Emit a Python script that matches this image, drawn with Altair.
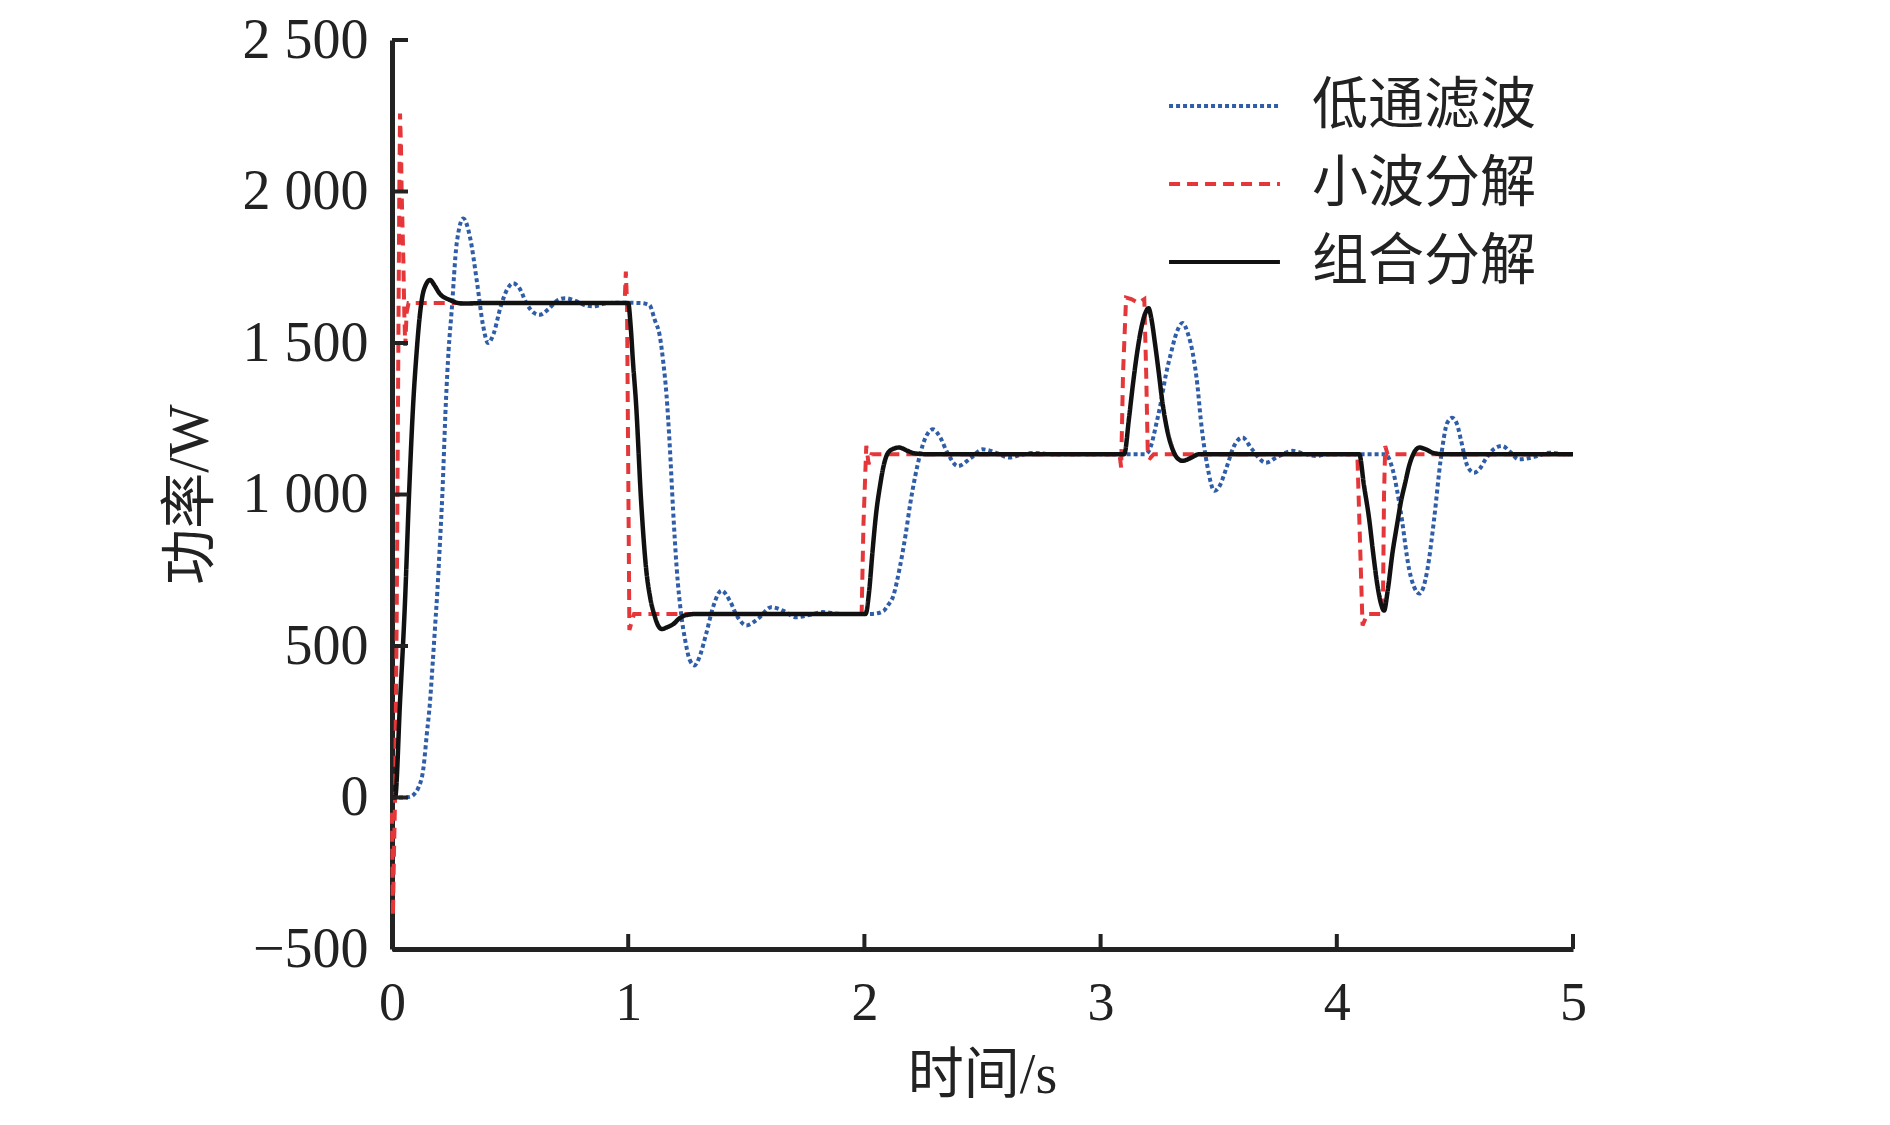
import altair as alt
import pandas as pd

# ---------------- data ----------------
series_names = ["低通滤波", "小波分解", "组合分解"]

lp_t = [0, 0.05, 0.076, 0.095, 0.111, 0.133, 0.147, 0.161, 0.172, 0.182, 0.192, 0.203, 0.213, 0.228, 0.24, 0.252,
        0.274, 0.302, 0.33, 0.36, 0.385, 0.407, 0.43, 0.46, 0.49, 0.513, 0.54, 0.57, 0.6, 0.626, 0.66, 0.7,
        0.732, 0.78, 0.82, 0.852, 0.9, 0.95, 1.05, 1.09, 1.112, 1.134, 1.148, 1.162, 1.176, 1.19, 1.205,
        1.225, 1.241, 1.26, 1.281, 1.3, 1.33, 1.36, 1.395, 1.43, 1.46, 1.5, 1.55, 1.605, 1.66, 1.71, 1.77,
        1.823, 1.9, 2.034, 2.08, 2.1, 2.12, 2.15, 2.175, 2.195, 2.215, 2.234, 2.26, 2.29, 2.32, 2.35, 2.396,
        2.45, 2.5, 2.55, 2.614, 2.66, 2.71, 2.8, 3.19, 3.213, 3.235, 3.255, 3.275, 3.298, 3.32, 3.347, 3.37,
        3.39, 3.41, 3.424, 3.452, 3.482, 3.505, 3.531, 3.565, 3.601, 3.64, 3.699, 3.75, 3.812, 3.86, 3.911,
        3.96, 4.206, 4.236, 4.271, 4.306, 4.33, 4.349, 4.365, 4.384, 4.412, 4.44, 4.468, 4.489, 4.51, 4.525,
        4.553, 4.581, 4.605, 4.63, 4.665, 4.7, 4.735, 4.77, 4.84, 4.9, 4.97, 5.0]
lp_v = [0, 0, 2, 12, 31, 97, 206, 316, 440, 560, 680, 840, 997, 1303, 1480, 1600,
        1829, 1911, 1850, 1700, 1560, 1500, 1530, 1620, 1680, 1697, 1680, 1630, 1600, 1593, 1610, 1640,
        1648, 1638, 1624, 1621, 1630, 1633, 1632, 1625, 1577, 1522, 1440, 1330, 1160, 950, 760,
        600, 520, 455, 436, 460, 540, 630, 683, 650, 600, 568, 590, 628, 615, 595, 603,
        612, 606, 606, 615, 635, 660, 760, 870, 974, 1060, 1127, 1190, 1215, 1190, 1140, 1094,
        1120, 1149, 1140, 1122, 1130, 1137, 1133, 1133, 1160, 1230, 1303, 1390, 1467, 1530, 1566, 1530,
        1467, 1360, 1248, 1094, 1012, 1030, 1084, 1160, 1188, 1150, 1105, 1125, 1144, 1135, 1127,
        1133, 1133, 1084, 941, 754, 690, 673, 690, 754, 919, 1116, 1237, 1253, 1230, 1182,
        1094, 1072, 1085, 1116, 1150, 1160, 1140, 1116, 1125, 1138, 1133, 1133]

wv_t = [0, 0.004, 0.008, 0.013, 0.02, 0.027, 0.031, 0.034, 0.038, 0.041, 0.045, 0.048, 0.052, 0.056, 0.062,
        0.07, 0.985, 0.99, 0.995, 1.0, 1.005, 1.015, 1.025, 1.98, 1.988, 1.996, 2.008, 2.018, 2.03, 3.08,
        3.087, 3.095, 3.108, 3.13, 3.16, 3.185, 3.193, 3.2, 3.21, 3.225, 4.087, 4.098, 4.109, 4.13, 4.195,
        4.2, 4.205, 4.215, 5.0]
wv_v = [-50, -390, -200, 0, 600, 1500, 2000, 2257, 2150, 1993, 1870, 1774, 1600, 1490, 1600,
        1632, 1632, 1736, 1632, 1100, 553, 580, 606, 606, 596, 900, 1161, 1100, 1133, 1133,
        1089, 1400, 1650, 1645, 1632, 1645, 1400, 1125, 1120, 1133, 1133, 850, 568, 606, 606,
        1000, 1160, 1133, 1133]

cb_t = [0, 0.013, 0.034, 0.055, 0.072, 0.09, 0.104, 0.115, 0.126, 0.145, 0.161, 0.18, 0.2, 0.245, 0.302,
        0.4, 1.0, 1.01, 1.02, 1.033, 1.055, 1.076, 1.093, 1.111, 1.125, 1.142, 1.165, 1.192, 1.215, 1.241,
        1.29, 2.005, 2.02, 2.034, 2.05, 2.066, 2.08, 2.098, 2.12, 2.147, 2.18, 2.212, 2.26, 3.1, 3.12,
        3.136, 3.155, 3.171, 3.19, 3.203, 3.215, 3.23, 3.245, 3.262, 3.28, 3.305, 3.325, 3.347, 3.38, 3.418,
        4.095, 4.115, 4.137, 4.155, 4.172, 4.187, 4.2, 4.215, 4.236, 4.255, 4.271, 4.29, 4.306, 4.325, 4.349,
        4.38, 4.405, 4.45, 5.0]
cb_v = [0, 0, 316, 645, 997, 1303, 1467, 1570, 1642, 1695, 1708, 1690, 1665, 1642, 1630,
        1632, 1632, 1560, 1440, 1303, 974, 754, 660, 602, 570, 556, 562, 573, 590, 601,
        606, 606, 680, 809, 940, 1028, 1090, 1135, 1150, 1155, 1145, 1136, 1133, 1133, 1250,
        1358, 1470, 1544, 1600, 1615, 1580, 1500, 1410, 1303, 1220, 1149, 1120, 1111, 1120, 1133,
        1133, 1030, 919, 800, 700, 640, 617, 680, 809, 900, 974, 1040, 1094, 1135, 1155,
        1148, 1138, 1133, 1133]

x_ticks = [0, 1, 2, 3, 4, 5]
y_ticks = [-500, 0, 500, 1000, 1500, 2000, 2500]

colors = ["#2f5da8", "#e5373a", "#111111"]
dashes = [[4, 3], [11, 7], [1, 0]]

# ---------------- chart ----------------
W, H = 1181, 909
FONT = "Liberation Serif, Noto Sans CJK SC"

df_lp = pd.DataFrame({"t": lp_t, "v": lp_v, "series": series_names[0]})
df_wv = pd.DataFrame({"t": wv_t, "v": wv_v, "series": series_names[1]})
df_cb = pd.DataFrame({"t": cb_t, "v": cb_v, "series": series_names[2]})

xscale = alt.Scale(domain=[0, 5], nice=False, zero=False)
yscale = alt.Scale(domain=[-500, 2500], nice=False, zero=False)

leg = alt.Legend(
    title=None, orient="none", legendX=775, legendY=37, symbolType="stroke",
    symbolSize=12300, symbolStrokeWidth=4, labelFontSize=56, labelFont=FONT,
    labelColor="#222222", labelOffset=30, labelLimit=500, clipHeight=58, rowPadding=20, padding=0,
)

color_enc = alt.Color("series:N", scale=alt.Scale(domain=series_names, range=colors), legend=leg)
dash_enc = alt.StrokeDash("series:N", scale=alt.Scale(domain=series_names, range=dashes), legend=leg)

x_enc = alt.X("t:Q", scale=xscale,
              axis=alt.Axis(values=x_ticks, format="d", title="时间/s", grid=False, tickSize=0,
                            labelFlush=False,
                            labelFontSize=54, labelFont=FONT, labelColor="#222222", labelPadding=27,
                            domainColor="#222222", domainWidth=5,
                            titleFontSize=56, titleFont=FONT, titleColor="#222222", titleFontWeight="normal",
                            titleX=590, titleY=126, titleBaseline="middle", titleAlign="center"))
y_enc = alt.Y("v:Q", scale=yscale,
              axis=alt.Axis(values=y_ticks, title="功率/W", grid=False, tickSize=0, labelFlush=False,
                            labelExpr="replace(format(datum.value, ','), ',', ' ')",
                            labelFontSize=56, labelFont=FONT, labelColor="#222222", labelPadding=24,
                            domainColor="#222222", domainWidth=5,
                            titleFontSize=56, titleFont=FONT, titleColor="#222222", titleFontWeight="normal",
                            titleX=-202, titleY=454, titleAngle=270, titleBaseline="middle",
                            titleAlign="center"))

lp = alt.Chart(df_lp).mark_line(strokeWidth=4, interpolate="monotone").encode(
    x=x_enc, y=y_enc, color=color_enc, strokeDash=dash_enc)
wv = alt.Chart(df_wv).mark_line(strokeWidth=4).encode(
    x="t:Q", y="v:Q", color=color_enc, strokeDash=dash_enc)
cb = alt.Chart(df_cb).mark_line(strokeWidth=4.5, interpolate="monotone").encode(
    x="t:Q", y="v:Q", color=color_enc, strokeDash=dash_enc)

# inward tick marks
yt = alt.Chart(pd.DataFrame({"v": y_ticks})).mark_rule(color="#222222", strokeWidth=4).encode(
    y="v:Q", x=alt.value(0), x2=alt.value(16))
xt = alt.Chart(pd.DataFrame({"t": x_ticks[1:]})).mark_rule(color="#222222", strokeWidth=4).encode(
    x="t:Q", y=alt.value(H), y2=alt.value(H - 15))

chart = alt.layer(lp, wv, cb, yt, xt).properties(
    width=W, height=H,
    autosize=alt.AutoSizeParams(type="none"),
    padding={"left": 384, "top": 32, "right": 110, "bottom": 160},
).configure(background="white", view=alt.ViewConfig(stroke=None))

chart.save("out.html", embed_options={"renderer": "svg", "actions": False})
